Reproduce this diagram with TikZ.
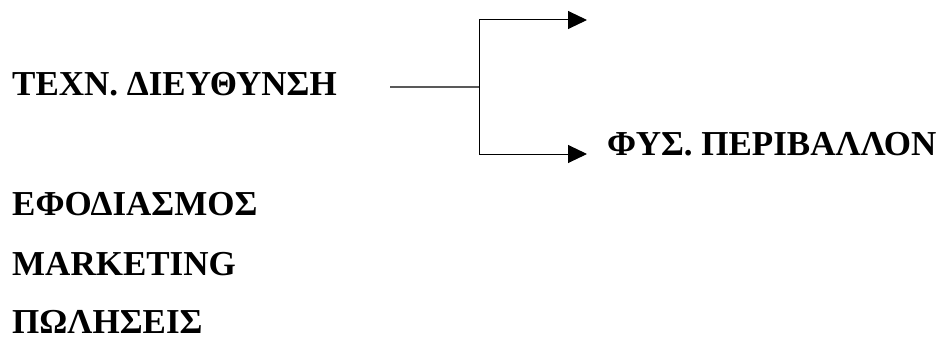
\documentclass[tikz,border=0pt]{standalone}
\usepackage{fontspec}
\setmainfont{Liberation Serif}
\usetikzlibrary{arrows.meta}

\begin{document}
\begin{tikzpicture}[x=1pt,y=-1pt,font=\bfseries\fontsize{35}{42}\selectfont,
    dept/.style={inner sep=0pt,anchor=base west},
    branch/.style={-{Triangle[length=19pt,width=18pt]},line width=1pt}]
    \useasboundingbox (0,0) rectangle (939,337);
    \node[dept](tech) at (12,95){ΤΕΧΝ. ΔΙΕΥΘΥΝΣΗ};
    \node[dept](env) at (607,155){ΦΥΣ. ΠΕΡΙΒΑΛΛΟΝ};
    \node[dept](supply) at (12,215){ΕΦΟΔΙΑΣΜΟΣ};
    \node[dept](mkt) at (12,275){MARKETING};
    \node[dept](sales) at (12,333){ΠΩΛΗΣΕΙΣ};
    % branching
    \coordinate (from) at (390,87);
    \coordinate (split) at (479,87);
    \coordinate (up) at (587,20);
    \coordinate (down) at (587,154);
    \draw[line width=1.3pt,black!65] (from) -- (split);
    \draw[branch] (split) |- (up);
    \draw[branch] (split) |- (down);
\end{tikzpicture}
\end{document}
